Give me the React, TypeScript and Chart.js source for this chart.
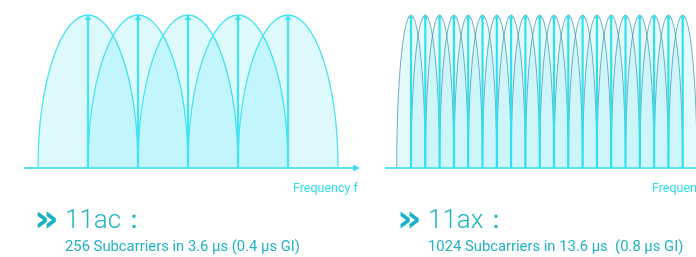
import React, { useEffect, useRef } from "react";
import { Chart, registerables } from "chart.js";

Chart.register(...registerables);

// 11ac: 5 subcarriers shown (index), amplitude
const acCarriers = [1, 2, 3, 4, 5];
const acAmplitude = [1, 1, 1, 1, 1];
const acHalfWidth = 1; // orthogonal spacing: each lobe spans to neighbour peaks

// 11ax: 20 subcarriers visible (narrower spacing)
const axCarriers = [1, 2, 3, 4, 5, 6, 7, 8, 9, 10, 11, 12, 13, 14, 15, 16, 17, 18, 19, 20];
const axAmplitude = [1, 1, 1, 1, 1, 1, 1, 1, 1, 1, 1, 1, 1, 1, 1, 1, 1, 1, 1, 1];
const axHalfWidth = 1;

const axisLabel = "Frequency f";
const titles = ["11ac：", "11ax："];
const subtitles = ["256 Subcarriers in 3.6 μs (0.4 μs GI)", "1024 Subcarriers in 13.6 μs  (0.8 μs GI)"];

type Style = {
  fill: string;
  stroke: string;
  strokeWidth: number;
  stem: string;
  stemWidth: number;
  headW: number;
  headH: number;
  arrow: boolean;
};

function makeChart(
  canvas: HTMLCanvasElement,
  carriers: number[],
  amps: number[],
  halfWidth: number,
  xMin: number,
  xMax: number,
  padding: { left: number; right: number; top: number; bottom: number },
  st: Style
) {
  const lobes = {
    id: "lobes",
    beforeDatasetsDraw(chart: any) {
      const ctx = chart.ctx;
      const xs = chart.scales.x;
      const ys = chart.scales.y;
      const area = chart.chartArea;
      ctx.save();
      ctx.beginPath();
      ctx.rect(area.left, 0, area.right - area.left + 20, area.bottom + 2);
      ctx.clip();
      const base = ys.getPixelForValue(0);
      carriers.forEach((c, i) => {
        const cx = xs.getPixelForValue(c);
        const rx = xs.getPixelForValue(c + halfWidth) - cx;
        const ry = base - ys.getPixelForValue(amps[i]);
        ctx.beginPath();
        ctx.ellipse(cx, base, rx, ry, 0, Math.PI, 2 * Math.PI);
        ctx.closePath();
        ctx.fillStyle = st.fill;
        ctx.fill();
        ctx.beginPath();
        ctx.ellipse(cx, base, rx, ry, 0, Math.PI, 2 * Math.PI);
        ctx.strokeStyle = st.stroke;
        ctx.lineWidth = st.strokeWidth;
        ctx.stroke();
      });
      ctx.restore();
      // baseline
      ctx.save();
      ctx.strokeStyle = "#5ae6f4";
      ctx.lineWidth = 2;
      ctx.beginPath();
      ctx.moveTo(area.left, base);
      ctx.lineTo(st.arrow ? area.right - 5 : area.right, base);
      ctx.stroke();
      if (st.arrow) {
        ctx.fillStyle = "#3fe2f2";
        ctx.beginPath();
        ctx.moveTo(area.right, base);
        ctx.lineTo(area.right - 7, base - 3.5);
        ctx.lineTo(area.right - 7, base + 3.5);
        ctx.closePath();
        ctx.fill();
      }
      ctx.restore();
    },
    afterDatasetsDraw(chart: any) {
      const ctx = chart.ctx;
      const meta = chart.getDatasetMeta(0);
      ctx.save();
      ctx.fillStyle = st.stem;
      meta.data.forEach((el: any) => {
        ctx.beginPath();
        ctx.moveTo(el.x, el.y);
        ctx.lineTo(el.x - st.headW / 2, el.y + st.headH);
        ctx.lineTo(el.x + st.headW / 2, el.y + st.headH);
        ctx.closePath();
        ctx.fill();
      });
      ctx.restore();
    },
  };

  return new Chart(canvas, {
    type: "bar",
    data: {
      datasets: [
        {
          data: carriers.map((c, i) => ({ x: c, y: amps[i] })),
          backgroundColor: st.stem,
          borderWidth: 0,
          barThickness: st.stemWidth,
        } as any,
      ],
    },
    options: {
      animation: false,
      responsive: false,
      devicePixelRatio: 1,
      layout: { padding },
      plugins: { legend: { display: false }, tooltip: { enabled: false } },
      scales: {
        x: { type: "linear", min: xMin, max: xMax, display: false, offset: false },
        y: { min: 0, max: 1, display: false },
      },
    },
    plugins: [lobes],
  });
}

export default function App() {
  const leftRef = useRef<HTMLCanvasElement>(null);
  const rightRef = useRef<HTMLCanvasElement>(null);

  useEffect(() => {
    const a = makeChart(
      leftRef.current!,
      acCarriers,
      acAmplitude,
      acHalfWidth,
      -0.28,
      6.44,
      { left: 24, right: 12, top: 15, bottom: 17 },
      {
        fill: "rgba(0,215,240,0.13)",
        stroke: "#4fe3f2",
        strokeWidth: 1.3,
        stem: "#40e4f4",
        stemWidth: 1.6,
        headW: 7,
        headH: 5,
        arrow: true,
      }
    );
    const b = makeChart(
      rightRef.current!,
      axCarriers,
      axAmplitude,
      axHalfWidth,
      -0.818,
      20.93,
      { left: 15, right: 0, top: 15, bottom: 17 },
      {
        fill: "rgba(0,210,235,0.10)",
        stroke: "rgba(70,150,168,0.75)",
        strokeWidth: 1,
        stem: "#2fe0f0",
        stemWidth: 1.5,
        headW: 5,
        headH: 3.5,
        arrow: false,
      }
    );
    return () => {
      a.destroy();
      b.destroy();
    };
  }, []);

  const font = "Roboto, 'Noto Sans', sans-serif";
  const teal = "#22b4c6";

  const block = (left: number, i: number) => (
    <>
      <div
        style={{
          position: "absolute",
          left: left - 1,
          top: 198,
          fontFamily: "'DejaVu Sans', sans-serif",
          fontWeight: 700,
          fontSize: 38,
          lineHeight: "40px",
          color: "#18b2c4",
        }}
      >
        »
      </div>
      <div
        style={{
          position: "absolute",
          left: left + 30,
          top: 203,
          fontFamily: font,
          fontWeight: 300,
          fontSize: 26,
          lineHeight: "32px",
          color: teal,
          whiteSpace: "nowrap",
        }}
      >
        {titles[i]}
      </div>
      <div
        style={{
          position: "absolute",
          left: left + 30,
          top: 237,
          fontFamily: font,
          fontSize: 14.8,
          lineHeight: "18px",
          color: teal,
          whiteSpace: "pre",
        }}
      >
        {subtitles[i]}
      </div>
    </>
  );

  return (
    <div
      style={{
        position: "absolute",
        left: 0,
        top: 0,
        width: 696,
        height: 257,
        overflow: "hidden",
        background: "#fff",
      }}
    >
      <canvas ref={leftRef} width={372} height={185} style={{ position: "absolute", left: 0, top: 0 }} />
      <canvas ref={rightRef} width={326} height={185} style={{ position: "absolute", left: 370, top: 0 }} />
      <div
        style={{
          position: "absolute",
          left: 293,
          top: 180,
          fontFamily: font,
          fontSize: 12.5,
          lineHeight: "15px",
          color: "#2ee0ee",
          whiteSpace: "nowrap",
        }}
      >
        {axisLabel}
      </div>
      <div
        style={{
          position: "absolute",
          left: 652,
          top: 180,
          fontFamily: font,
          fontSize: 12.5,
          lineHeight: "15px",
          color: "#2ee0ee",
          whiteSpace: "nowrap",
        }}
      >
        {axisLabel}
      </div>
      {block(35, 0)}
      {block(398, 1)}
    </div>
  );
}
